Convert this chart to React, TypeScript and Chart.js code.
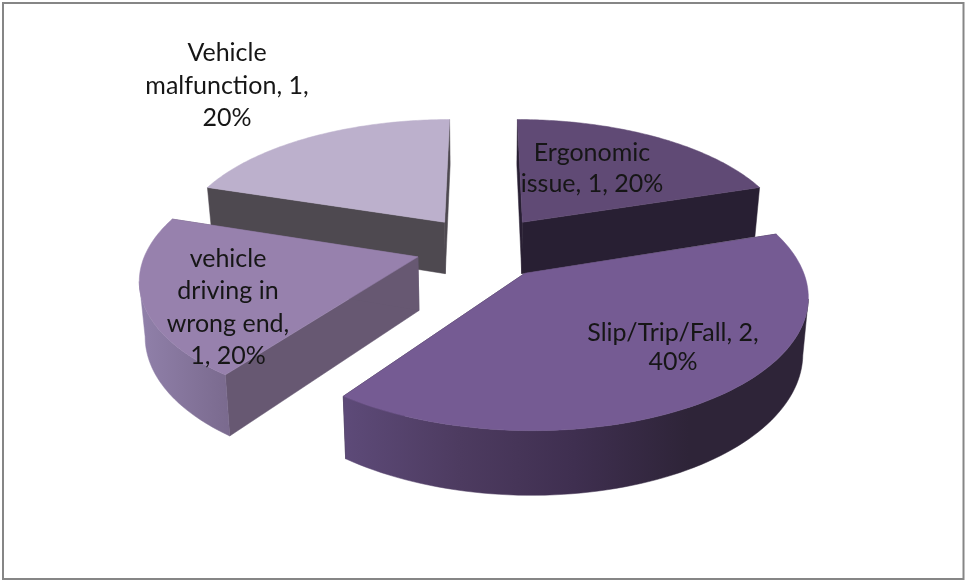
import React, { useEffect, useRef } from "react";
import { Chart, registerables } from "chart.js";

Chart.register(...registerables);

const categories = ["Ergonomic issue", "Slip/Trip/Fall", "vehicle driving in wrong end", "Vehicle malfunction"];
const values = [1, 2, 1, 1];
const percents = [20, 40, 20, 20];
const labelLines = [
  ["Ergonomic", "issue, 1, 20%"],
  ["Slip/Trip/Fall, 2,", "40%"],
  ["vehicle", "driving in", "wrong end,", "1, 20%"],
  ["Vehicle", "malfunction, 1,", "20%"],
];
const labelAnchors = [
  [592, 153, 31],
  [673, 333, 29],
  [228, 259, 32.3],
  [227, 53, 32.5],
];
const topColors = ["#604a75", "#755b93", "#9781ad", "#bcb0cc"];
const wallColors = ["#281f33", "#2e2438", "#675872", "#4e4950"];
const rimStops = [
  ["#3a2d48", "#281f33"],
  ["#5d4a78", "#4d3b60", "#3f2f50", "#2e2438", "#2e2438"],
  ["#8f7fa8", "#7a6a8e"],
  ["#a79cb8", "#9a90aa"],
];

const CX = 483.5, CY = 247, A = 270.5, B = 125, G = 0.15, DEPTH = 53, TAPER = 0.017;

function project(u: number, v: number, z: number) {
  const den = 1 - G * v;
  return { x: CX + ((A * u) / den) * (1 - TAPER * z), y: CY + (B * v + DEPTH * z) / den };
}

const pseudo3d = {
  id: "pseudo3d",
  beforeDatasetDraw() {
    return false;
  },
  afterDatasetsDraw(chart: any) {
    const ctx = chart.ctx as CanvasRenderingContext2D;
    const arcs = chart.getDatasetMeta(0).data as any[];
    const order = arcs.map((_, i) => i).sort((a, b) => {
      const m = (e: any) => Math.sin((e.startAngle + e.endAngle) / 2);
      return m(arcs[a]) - m(arcs[b]);
    });
    const poly = (pts: { x: number; y: number }[], fill: any) => {
      ctx.beginPath();
      pts.forEach((p, k) => (k ? ctx.lineTo(p.x, p.y) : ctx.moveTo(p.x, p.y)));
      ctx.closePath();
      ctx.fillStyle = fill;
      ctx.fill();
      ctx.strokeStyle = fill;
      ctx.lineWidth = 0.5;
      ctx.stroke();
    };
    for (const i of order) {
      const e = arcs[i];
      const d = e.options.offset / e.outerRadius;
      const mid = (e.startAngle + e.endAngle) / 2;
      const ox = d * Math.cos(mid), oy = d * Math.sin(mid);
      const rim = (z: number) => {
        const pts = [];
        for (let k = 0; k <= 90; k++) {
          const a = e.startAngle + ((e.endAngle - e.startAngle) * k) / 90;
          pts.push(project(ox + Math.cos(a), oy + Math.sin(a), z));
        }
        return pts;
      };
      const top = rim(0), bot = rim(1);
      const apexT = project(ox, oy, 0), apexB = project(ox, oy, 1);
      poly([apexT, top[0], bot[0], apexB], wallColors[i]);
      poly([apexT, top[90], bot[90], apexB], wallColors[i]);
      // only the part of the rim that faces the viewer
      const front = top.map((_, k) => k).filter((k) => k < 90 && top[k + 1].x < top[k].x);
      if (front.length) {
        const first = front[0], last = front[front.length - 1] + 1;
        const t = top.slice(first, last + 1), b = bot.slice(first, last + 1);
        const xs = b.map((p) => p.x);
        const g = ctx.createLinearGradient(Math.min(...xs), 0, Math.max(...xs), 0);
        const stops = rimStops[i];
        stops.forEach((c, k) => g.addColorStop(k / (stops.length - 1), c));
        poly([...t, ...b.reverse()], g);
      }
      poly([apexT, ...top], topColors[i]);
    }
    ctx.fillStyle = "#161616";
    ctx.font = "25px Lato, Carlito, sans-serif";
    ctx.textAlign = "center";
    ctx.textBaseline = "middle";
    labelLines.forEach((lines, i) => {
      const [x, y, step] = labelAnchors[i];
      lines.forEach((line, k) => ctx.fillText(line, x, y + k * step));
    });
    ctx.strokeStyle = "#868686";
    ctx.lineWidth = 2;
    ctx.strokeRect(3, 3, 960.5, 576);
  },
};

export default function App() {
  const ref = useRef<HTMLCanvasElement>(null);
  useEffect(() => {
    document.body.style.margin = "0";
    document.body.style.background = "#ffffff";
    const chart = new Chart(ref.current!, {
      type: "pie",
      data: {
        labels: categories.map((c, i) => `${c}, ${values[i]}, ${percents[i]}%`),
        datasets: [{ data: values, backgroundColor: topColors, offset: 65, borderWidth: 0 }],
      },
      options: {
        responsive: false,
        animation: false,
        plugins: { legend: { display: false }, tooltip: { enabled: false } },
      },
      plugins: [pseudo3d],
    } as any);
    return () => chart.destroy();
  }, []);
  return <canvas ref={ref} width={966} height={581} style={{ display: "block" }} />;
}
